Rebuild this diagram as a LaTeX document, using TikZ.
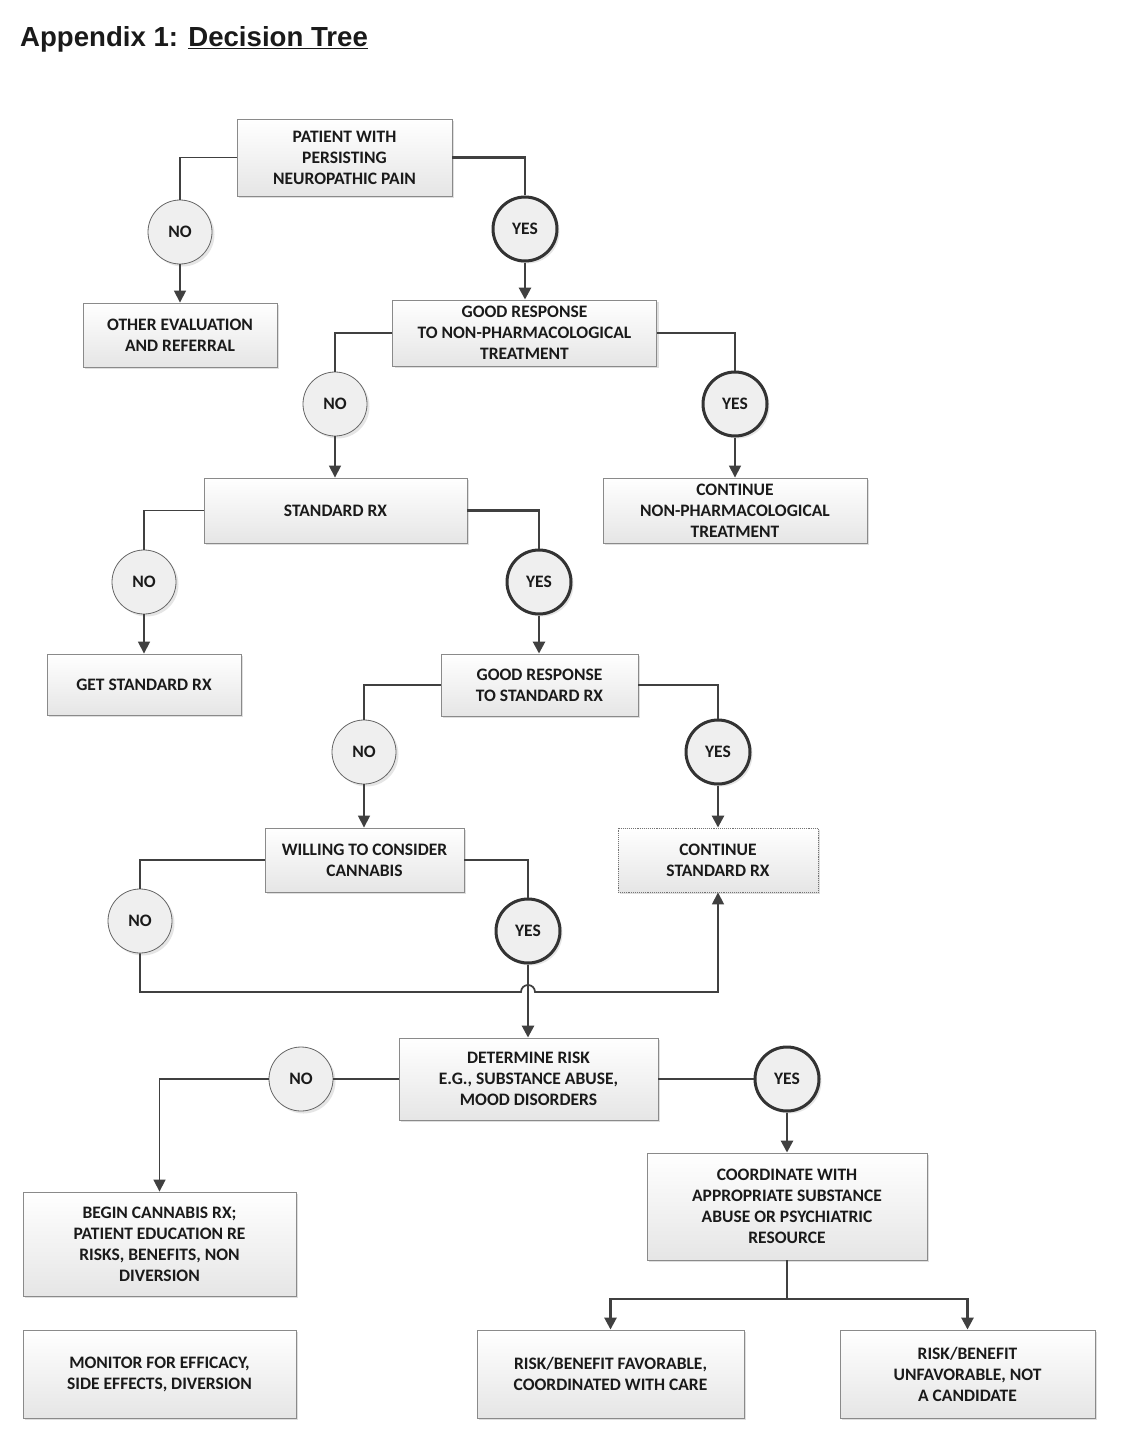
\documentclass[tikz,border=0pt]{standalone}
\usepackage{fontspec}
\setmainfont{Carlito}
\newfontfamily\titlefont{Liberation Sans}
\usetikzlibrary{arrows.meta,shadows,positioning}
\definecolor{ink}{HTML}{1A1A1A}
\definecolor{linec}{HTML}{404040}
\definecolor{boxborder}{HTML}{8A8A8A}
\definecolor{circfill}{HTML}{EFEFEF}
\tikzset{
  box/.style={rectangle, draw=boxborder, line width=0.9pt, top color=white, bottom color=black!10,
    align=center, text=ink, font=\fontsize{17.5}{21}\selectfont\bfseries, inner sep=0pt,
    drop shadow={shadow xshift=2pt, shadow yshift=-2pt, opacity=0.25, fill=black!50}},
  nocirc/.style={circle, draw=black!60, line width=0.8pt, fill=circfill, minimum size=64pt, inner sep=0pt,
    text=ink, font=\fontsize{17.5}{20}\selectfont\bfseries,
    drop shadow={shadow xshift=2.5pt, shadow yshift=-2.5pt, opacity=0.2, fill=black!50}},
  yescirc/.style={nocirc, draw=black!80, line width=3pt},
  tip/.tip={Triangle[length=12pt,width=12pt]},
  conn/.style={draw=linec, line width=1.7pt},
  connY/.style={draw=linec, line width=2.7pt},
}
\begin{document}
\begin{tikzpicture}[x=1pt,y=-1pt]
\useasboundingbox (0,0) rectangle (1130,1434);
\fill[white] (0,0) rectangle (1130,1434);

\node[anchor=base west, inner sep=0pt, text=ink, font=\titlefont\fontsize{27.6}{30}\selectfont\bfseries] (title) at (20,47)
  {Appendix 1: \underline{Decision Tree}};

% boxes
\node[box, minimum width=215pt, minimum height=77pt] (b1) at (344.5,157.5) {PATIENT WITH\\PERSISTING\\NEUROPATHIC PAIN};
\node[box, minimum width=194pt, minimum height=64pt] (oth) at (180,335) {OTHER EVALUATION\\AND REFERRAL};
\node[box, minimum width=264pt, minimum height=66pt] (b2) at (524.5,333) {GOOD RESPONSE\\TO NON-PHARMACOLOGICAL\\TREATMENT};
\node[box, minimum width=264pt, minimum height=65pt] (cnp) at (735,510.5) {CONTINUE\\NON-PHARMACOLOGICAL\\TREATMENT};
\node[box, minimum width=263pt, minimum height=65pt] (b3) at (335.5,510.5) {STANDARD RX};
\node[box, minimum width=194pt, minimum height=61pt] (gsr) at (144,684.5) {GET STANDARD RX};
\node[box, minimum width=197pt, minimum height=62pt] (b4) at (539.5,685) {GOOD RESPONSE\\TO STANDARD RX};
\node[box, minimum width=200pt, minimum height=64pt, draw=black!55, densely dotted] (cs) at (718,860) {CONTINUE\\STANDARD RX};
\node[box, minimum width=199pt, minimum height=64pt] (b5) at (364.5,860) {WILLING TO CONSIDER\\CANNABIS};
\node[box, minimum width=259pt, minimum height=82pt] (b6) at (528.5,1079) {DETERMINE RISK\\E.G., SUBSTANCE ABUSE,\\MOOD DISORDERS};
\node[box, minimum width=273pt, minimum height=104pt] (b7) at (159.5,1244) {BEGIN CANNABIS RX;\\PATIENT EDUCATION RE\\RISKS, BENEFITS, NON\\DIVERSION};
\node[box, minimum width=273pt, minimum height=88pt] (mon) at (159.5,1374) {MONITOR FOR EFFICACY,\\SIDE EFFECTS, DIVERSION};
\node[box, minimum width=280pt, minimum height=107pt] (b8) at (787,1206.5) {COORDINATE WITH\\APPROPRIATE SUBSTANCE\\ABUSE OR PSYCHIATRIC\\RESOURCE};
\node[box, minimum width=267pt, minimum height=88pt] (b9) at (610.5,1374) {RISK/BENEFIT FAVORABLE,\\COORDINATED WITH CARE};
\node[box, minimum width=255pt, minimum height=88pt] (b10) at (967.5,1374) {RISK/BENEFIT\\UNFAVORABLE, NOT\\A CANDIDATE};

% circles
\node[nocirc] (no1) at (180,232) {NO};
\node[yescirc] (yes1) at (525,229) {YES};
\node[nocirc] (no2) at (335,404) {NO};
\node[yescirc] (yes2) at (735,404) {YES};
\node[nocirc] (no3) at (144,582) {NO};
\node[yescirc] (yes3) at (539,582) {YES};
\node[nocirc] (no4) at (364,752) {NO};
\node[yescirc] (yes4) at (718,752) {YES};
\node[nocirc] (no5) at (140,921) {NO};
\node[yescirc] (yes5) at (528,931) {YES};
\node[nocirc] (no6) at (301,1079) {NO};
\node[yescirc] (yes6) at (787,1079) {YES};

\coordinate (hopL) at (521,992);
\coordinate (split) at (787,1299);

% connectors
\draw[conn] (b1.west) -| (no1.north);
\draw[conn,-tip] (no1.south) -- (no1.south |- oth.north);
\draw[connY] (b1.east) -| (yes1.north);
\draw[connY,-tip] (yes1.south) -- (yes1.south |- b2.north);

\draw[conn] (b2.west) -| (no2.north);
\draw[conn,-tip] (no2.south) -- (no2.south |- b3.north);
\draw[connY] (b2.east) -| (yes2.north);
\draw[conn,-tip] (yes2.south) -- (yes2.south |- cnp.north);

\draw[conn] (b3.west) -| (no3.north);
\draw[conn,-tip] (no3.south) -- (no3.south |- gsr.north);
\draw[connY] (b3.east) -| (yes3.north);
\draw[connY,-tip] (yes3.south) -- (yes3.south |- b4.north);

\draw[conn] (b4.west) -| (no4.north);
\draw[conn,-tip] (no4.south) -- (no4.south |- b5.north);
\draw[connY] (b4.east) -| (yes4.north);
\draw[connY,-tip] (yes4.south) -- (yes4.south |- cs.north);

\draw[conn] (b5.west) -| (no5.north);
\draw[conn,-tip] (no5.south) |- (hopL) arc[start angle=180,end angle=360,radius=7] -| (cs.south);
\draw[connY] (b5.east) -| (yes5.north);
\draw[connY,-tip] (yes5.south) -- (yes5.south |- b6.north);

\draw[conn] (b6.west) -- (no6.east);
\draw[conn,-tip] (no6.west) -| (b7.north);
\draw[connY] (b6.east) -- (yes6.west);
\draw[connY,-tip] (yes6.south) -- (yes6.south |- b8.north);

\draw[conn] (b8.south) -- (split);
\draw[connY,-tip] (split) -| (b9.north);
\draw[connY,-tip] (split) -| (b10.north);
\end{tikzpicture}
\end{document}
